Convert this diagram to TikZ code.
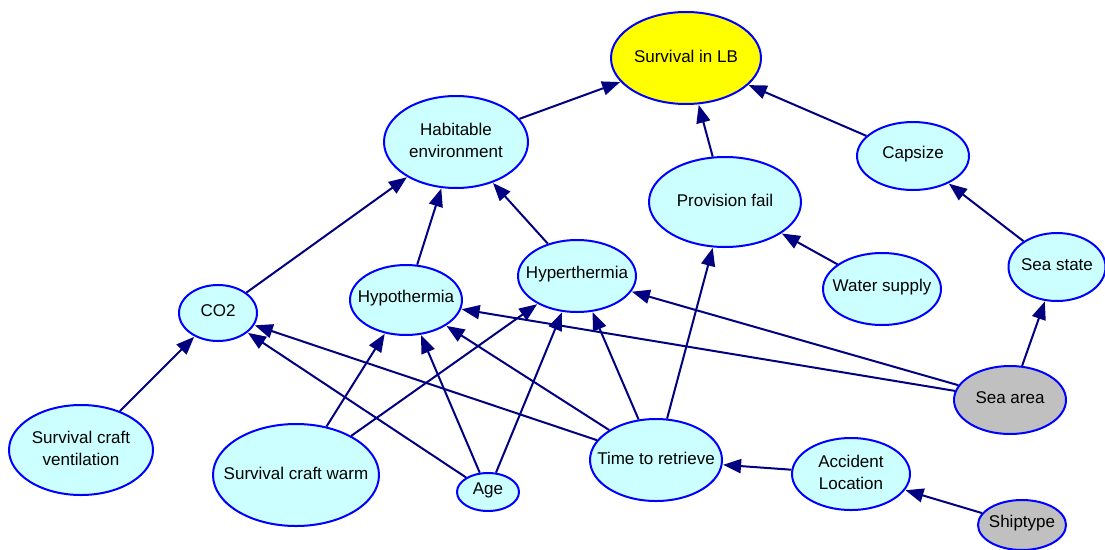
\documentclass[tikz,border=0pt]{standalone}
\usepackage{fontspec}
\setmainfont{Liberation Sans}
\usetikzlibrary{shapes.geometric,arrows.meta}
\definecolor{edgenavy}{RGB}{0,0,128}
\definecolor{nodeblue}{RGB}{0,0,255}
\definecolor{nodecyan}{RGB}{204,255,255}
\definecolor{nodegray}{RGB}{192,192,192}
\definecolor{nodeyellow}{RGB}{255,255,0}
\begin{document}
\begin{tikzpicture}[x=1pt,y=-1pt,
  every label/.style={align=center, font=\fontsize{17}{22}\selectfont, inner sep=0pt, yshift=2pt},
  bnode/.style n args={3}{ellipse, draw=nodeblue, line width=2pt, fill=nodecyan,
    inner sep=0pt, minimum width=#1pt, minimum height=#2pt,
    label={center:#3}},
  link/.style={draw=edgenavy, line width=2pt,
    -{Triangle[length=18pt,width=14pt]}, shorten >=0.5pt}]
\useasboundingbox (0,0) rectangle (1105,549);
\node[bnode={150}{92}{Survival in LB}, fill=nodeyellow] (surv) at (686,58) {};
\node[bnode={144}{92}{Habitable\\environment}] (hab) at (456,142) {};
\node[bnode={152}{90}{Provision fail}] (prov) at (725,202) {};
\node[bnode={112}{68}{Capsize}] (caps) at (913,156) {};
\node[bnode={97}{68}{Sea state}] (seast) at (1057,267) {};
\node[bnode={118}{72}{Water supply}] (water) at (882,289) {};
\node[bnode={118}{72}{Hyperthermia}] (hyper) at (577,276) {};
\node[bnode={112}{70}{Hypothermia}] (hypo) at (406,300) {};
\node[bnode={78}{56}{CO2}] (co2) at (218,313) {};
\node[bnode={112}{68}{Sea area}, fill=nodegray] (seaarea) at (1010,400) {};
\node[bnode={144}{90}{Survival craft\\ventilation}] (vent) at (81,450) {};
\node[bnode={166}{102}{Survival craft warm}] (warm) at (296,475) {};
\node[bnode={62}{38}{Age}] (age) at (488,492) {};
\node[bnode={132}{82}{Time to retrieve}] (time) at (656,460) {};
\node[bnode={118}{72}{Accident\\Location}] (acc) at (851,474) {};
\node[bnode={88}{50}{Shiptype}, fill=nodegray] (ship) at (1022,525) {};
\draw[link] (hab) -- (surv);
\draw[link] (prov) -- (surv);
\draw[link] (caps) -- (surv);
\draw[link] (co2) -- (hab);
\draw[link] (hypo) -- (hab);
\draw[link] (hyper) -- (hab);
\draw[link] (water) -- (prov);
\draw[link] (time) -- (prov);
\draw[link] (seast) -- (caps);
\draw[link] (seaarea) -- (seast);
\draw[link] (seaarea) -- (hypo);
\draw[link] (seaarea) -- (hyper);
\draw[link] (vent) -- (co2);
\draw[link] (age) -- (co2);
\draw[link] (time) -- (co2);
\draw[link] (warm) -- (hypo);
\draw[link] (warm) -- (hyper);
\draw[link] (age) -- (hypo);
\draw[link] (age) -- (hyper);
\draw[link] (time) -- (hypo);
\draw[link] (time) -- (hyper);
\draw[link] (acc) -- (time);
\draw[link] (ship) -- (acc);
\end{tikzpicture}
\end{document}
